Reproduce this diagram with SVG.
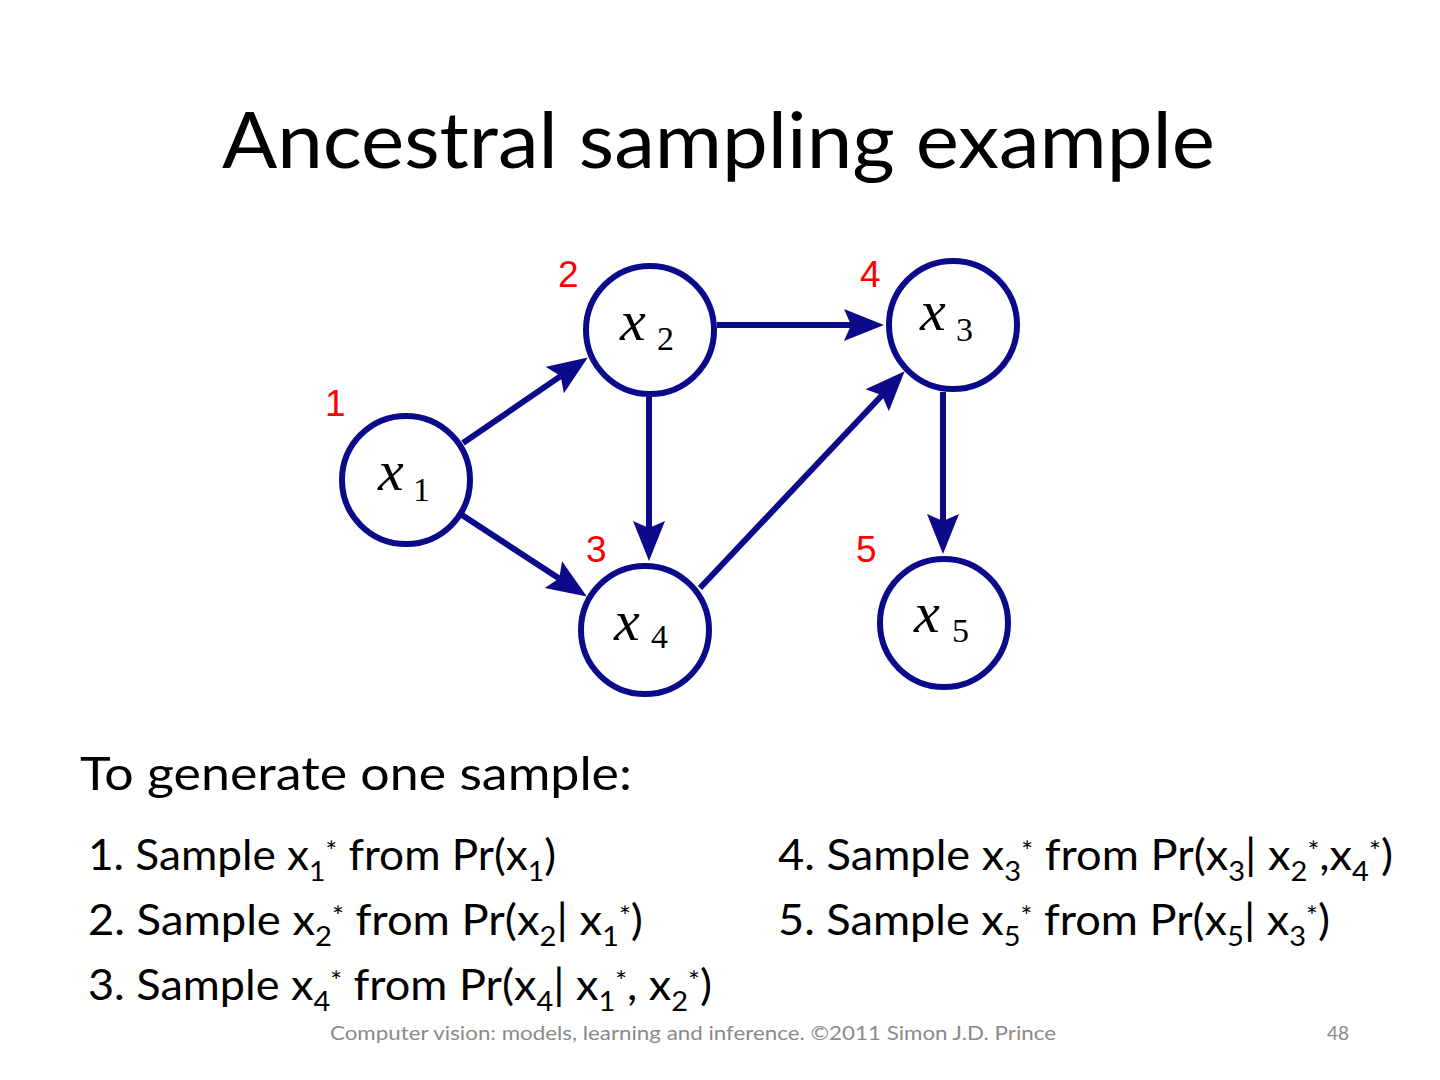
<svg xmlns="http://www.w3.org/2000/svg" width="1440" height="1080" viewBox="0 0 1440 1080">
<style>
.node{fill:#fff;stroke:#0a0a8a;stroke-width:6}
.edge{stroke:#0a0a8a;stroke-width:6;fill:none;marker-end:url(#ah)}
.mx{font-family:"Liberation Serif",serif;font-style:italic;font-size:58px;fill:#000}
.ms{font-family:"Liberation Serif",serif;font-size:34px;fill:#000}
.red{font-family:"Liberation Sans",Arial,sans-serif;font-size:37px;fill:#ff0000}
.t{font-family:Lato,"Open Sans",sans-serif;fill:#000}
.item{font-size:42px}
.sub{font-size:27px}
.sup{font-size:26px}
.foot{font-family:Lato,"Open Sans",sans-serif;font-size:19px;fill:#8a8a8a}
</style>
<defs>
<marker id="ah" markerUnits="userSpaceOnUse" markerWidth="42" markerHeight="34" viewBox="0 0 42 34" refX="7" refY="17" orient="auto">
<path d="M0,1 L40,17 L0,33 L7,17 Z" fill="#0a0a8a"/>
</marker>
</defs>
<rect width="1440" height="1080" fill="#fff"/>
<text class="t" x="222" y="168" font-size="78" textLength="993" lengthAdjust="spacingAndGlyphs">Ancestral sampling example</text>

<g id="connectors">
<line class="edge" x1="463" y1="443" x2="560.6" y2="376.1"/>
<line class="edge" x1="717" y1="325" x2="851" y2="325"/>
<line class="edge" x1="649" y1="397" x2="649" y2="528"/>
<line class="edge" x1="462" y1="515" x2="559.2" y2="578.5"/>
<line class="edge" x1="700" y1="588" x2="882" y2="395.2"/>
<line class="edge" x1="943" y1="392" x2="943" y2="521"/>
</g>

<g id="x1">
<circle class="node" cx="406" cy="480" r="64"/>
<text class="mx" x="378" y="490">x</text><text class="ms" x="413" y="501">1</text>
<text class="red" x="325" y="416">1</text>
</g>
<g id="x2">
<circle class="node" cx="650" cy="330" r="64"/>
<text class="mx" x="620" y="340">x</text><text class="ms" x="657" y="350">2</text>
<text class="red" x="558" y="287">2</text>
</g>
<g id="x3">
<circle class="node" cx="953" cy="325" r="64"/>
<text class="mx" x="920" y="330">x</text><text class="ms" x="956" y="341">3</text>
<text class="red" x="860" y="287">4</text>
</g>
<g id="x4">
<circle class="node" cx="645" cy="630" r="64"/>
<text class="mx" x="614" y="640">x</text><text class="ms" x="651" y="648">4</text>
<text class="red" x="586" y="562">3</text>
</g>
<g id="x5">
<circle class="node" cx="944" cy="623" r="64"/>
<text class="mx" x="914" y="632">x</text><text class="ms" x="952" y="642">5</text>
<text class="red" x="856" y="562">5</text>
</g>

<text class="t" x="80" y="790" font-size="46" textLength="552" lengthAdjust="spacingAndGlyphs">To generate one sample:</text>

<text class="t item" x="88" y="870" textLength="468" lengthAdjust="spacingAndGlyphs">1. Sample x<tspan class="sub" dy="11">1</tspan><tspan class="sup" dy="-20">*</tspan><tspan dy="9"> from Pr(x</tspan><tspan class="sub" dy="11">1</tspan><tspan dy="-11">)</tspan></text>
<text class="t item" x="88" y="935" textLength="555" lengthAdjust="spacingAndGlyphs">2. Sample x<tspan class="sub" dy="11">2</tspan><tspan class="sup" dy="-20">*</tspan><tspan dy="9"> from Pr(x</tspan><tspan class="sub" dy="11">2</tspan><tspan dy="-11">| x</tspan><tspan class="sub" dy="11">1</tspan><tspan class="sup" dy="-20">*</tspan><tspan dy="9">)</tspan></text>
<text class="t item" x="88" y="1000" textLength="624" lengthAdjust="spacingAndGlyphs">3. Sample x<tspan class="sub" dy="11">4</tspan><tspan class="sup" dy="-20">*</tspan><tspan dy="9"> from Pr(x</tspan><tspan class="sub" dy="11">4</tspan><tspan dy="-11">| x</tspan><tspan class="sub" dy="11">1</tspan><tspan class="sup" dy="-20">*</tspan><tspan dy="9">, x</tspan><tspan class="sub" dy="11">2</tspan><tspan class="sup" dy="-20">*</tspan><tspan dy="9">)</tspan></text>
<text class="t item" x="778" y="870" textLength="615" lengthAdjust="spacingAndGlyphs">4. Sample x<tspan class="sub" dy="11">3</tspan><tspan class="sup" dy="-20">*</tspan><tspan dy="9"> from Pr(x</tspan><tspan class="sub" dy="11">3</tspan><tspan dy="-11">| x</tspan><tspan class="sub" dy="11">2</tspan><tspan class="sup" dy="-20">*</tspan><tspan dy="9">,x</tspan><tspan class="sub" dy="11">4</tspan><tspan class="sup" dy="-20">*</tspan><tspan dy="9">)</tspan></text>
<text class="t item" x="778" y="935" textLength="552" lengthAdjust="spacingAndGlyphs">5. Sample x<tspan class="sub" dy="11">5</tspan><tspan class="sup" dy="-20">*</tspan><tspan dy="9"> from Pr(x</tspan><tspan class="sub" dy="11">5</tspan><tspan dy="-11">| x</tspan><tspan class="sub" dy="11">3</tspan><tspan class="sup" dy="-20">*</tspan><tspan dy="9">)</tspan></text>

<text class="foot" x="330" y="1040" textLength="726" lengthAdjust="spacingAndGlyphs">Computer vision: models, learning and inference.  ©2011 Simon J.D. Prince</text>
<text class="foot" x="1327" y="1040">48</text>
</svg>
